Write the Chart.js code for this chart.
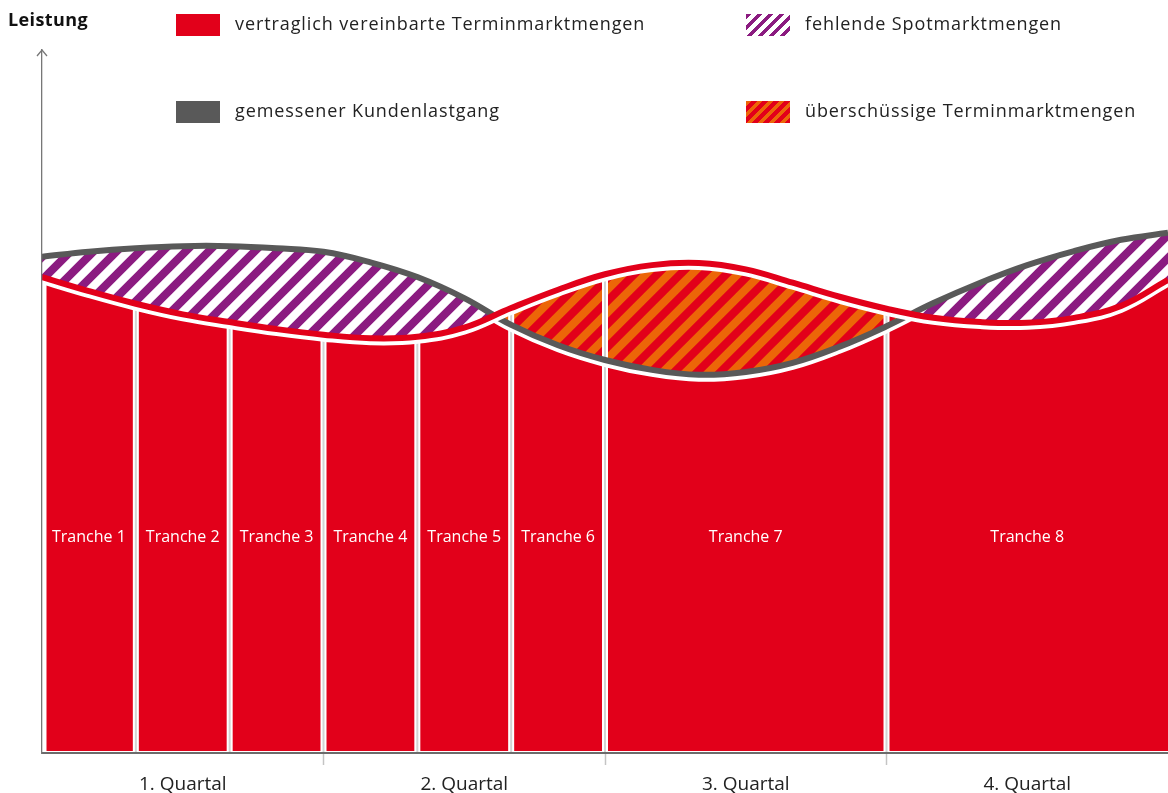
<!DOCTYPE html>
<html lang="de">
<head>
<meta charset="utf-8">
<title>Leistung – Tranchen</title>
<script src="https://cdn.jsdelivr.net/npm/chart.js@4.4.1/dist/chart.umd.min.js"></script>
<style>
  html, body { margin: 0; padding: 0; background: #fff; }
  body { width: 1168px; height: 793px; position: relative; overflow: hidden;
         font-family: 'Open Sans', sans-serif; color: #222; }
  #chart { position: absolute; left: 0; top: 0; }
  .title { position: absolute; left: 8px; top: 7px; font-size: 18px; font-weight: bold;
           letter-spacing: 0.4px; color: #111; }
  .legend-item { position: absolute; display: flex; align-items: center; font-size: 18px;
                 letter-spacing: 0.9px; z-index: 2; }
  .legend-item .txt { position: relative; top: -2px; }
  .swatch { width: 44px; height: 22px; margin-right: 15px; flex: none; }
</style>
</head>
<body>
<canvas id="chart" width="1168" height="793"></canvas>
<div class="title">Leistung</div>
<div id="legend"></div>
<script>
// ── Daten ──────────────────────────────────────────────
const months = [0, 0.5, 1, 1.5, 2, 2.5, 3, 3.5, 4, 4.5, 5, 5.5, 6, 6.5, 7, 7.5, 8, 8.5, 9, 9.5, 10, 10.5, 11, 11.5, 12];
const gemessen = [70.6, 71.3, 71.8, 72.1, 72.1, 71.8, 71.3, 69.8, 67.7, 64.7, 60.9, 58.0, 55.9, 54.5, 53.8, 54.2, 55.5, 57.8, 60.7, 64.0, 66.9, 69.4, 71.4, 73.0, 74.0];
const vertraglich = [67.7, 65.7, 63.9, 62.4, 61.3, 60.3, 59.5, 59.0, 59.2, 60.5, 63.3, 65.9, 68.1, 69.4, 69.7, 68.8, 66.9, 64.9, 63.2, 61.9, 61.3, 61.2, 61.9, 63.6, 67.3];
const tranchen = ['Tranche 1', 'Tranche 2', 'Tranche 3', 'Tranche 4', 'Tranche 5', 'Tranche 6', 'Tranche 7', 'Tranche 8'];
const trancheGrenzen = [0, 1, 2, 3, 4, 5, 6, 9, 12];
const quartale = ['1. Quartal', '2. Quartal', '3. Quartal', '4. Quartal'];
const legendeTexte = ['vertraglich vereinbarte Terminmarktmengen', 'fehlende Spotmarktmengen', 'gemessener Kundenlastgang', 'überschüssige Terminmarktmengen'];
const labelHoehe = 30.6;

// ── Farben ─────────────────────────────────────────────
const RED = '#e2001a';
const GRAY = '#595959';
const PURPLE = '#8b1b80';
const ORANGE = '#ec6608';
const FONT = "'Open Sans', sans-serif";

// ── Legende (HTML) ─────────────────────────────────────
const swatches = [
  RED,
  `repeating-linear-gradient(135deg, ${PURPLE} 0 3.9px, #fff 3.9px 7.8px)`,
  GRAY,
  `repeating-linear-gradient(135deg, ${ORANGE} 0 3.9px, ${RED} 3.9px 7.8px)`,
];
const legendPos = [[176, 13], [746, 13], [176, 100], [746, 100]];
const legend = document.getElementById('legend');
legendeTexte.forEach((text, i) => {
  const item = document.createElement('div');
  item.className = 'legend-item';
  item.style.left = legendPos[i][0] + 'px';
  item.style.top = legendPos[i][1] + 'px';
  item.innerHTML = `<span class="swatch" style="background:${swatches[i]}"></span><span class="txt">${text}</span>`;
  legend.appendChild(item);
});

// ── Schraffur ──────────────────────────────────────────
const canvas = document.getElementById('chart');
const mainCtx = canvas.getContext('2d');

function stripes(c1, c2, size) {
  const cv = document.createElement('canvas');
  cv.width = cv.height = size;
  const g = cv.getContext('2d');
  g.fillStyle = c2;
  g.fillRect(0, 0, size, size);
  g.strokeStyle = c1;
  g.lineWidth = size / (2 * Math.SQRT2);
  g.beginPath();
  [-size, 0, size].forEach(x0 => {
    g.moveTo(x0 - size, 2 * size);
    g.lineTo(x0 + 2 * size, -size);
  });
  g.stroke();
  return mainCtx.createPattern(cv, 'repeat');
}
const purpleHatch = stripes(PURPLE, '#ffffff', 23);
const orangeHatch = stripes(ORANGE, RED, 23);

const toPoints = arr => months.map((m, i) => ({ x: m, y: arr[i] }));

// ── Eigene Zeichnungen: weiße Kanten, Trennlinien, Beschriftung ──
const extras = {
  id: 'extras',
  beforeDatasetDraw(chart, args) {
    if (args.index !== 2 && args.index !== 3) return;
    const { ctx, chartArea } = chart;
    const line = args.meta.dataset;
    line.updateControlPoints(chartArea, 'x');
    ctx.save();
    if (args.index === 2) {
      // weiße Kante unter der grauen Linie nur über der roten Fläche
      const red = chart.getDatasetMeta(0).dataset;
      red.updateControlPoints(chartArea, 'x');
      ctx.beginPath();
      red.path(ctx);
      ctx.lineTo(chartArea.right, chartArea.bottom);
      ctx.lineTo(chartArea.left, chartArea.bottom);
      ctx.closePath();
      ctx.clip();
    }
    ctx.translate(0, 4);
    ctx.beginPath();
    line.path(ctx);
    ctx.strokeStyle = '#fff';
    ctx.lineWidth = 6;
    ctx.stroke();
    ctx.restore();
  },
  afterDatasetDraw(chart, args) {
    if (args.index !== 1) return;
    const { ctx, chartArea, scales: { x, y } } = chart;
    ctx.save();
    // Abstand zur Achse
    ctx.fillStyle = '#fff';
    const top0 = y.getPixelForValue(vertraglich[0]);
    ctx.fillRect(chartArea.left, top0, 4.5, chartArea.bottom - top0);
    ctx.fillRect(chartArea.left, chartArea.bottom - 2, chartArea.right - chartArea.left, 2);
    // Trennlinien zwischen Tranchen
    trancheGrenzen.slice(1, -1).forEach(b => {
      const px = x.getPixelForValue(b);
      const top = y.getPixelForValue(vertraglich[months.indexOf(b)]);
      ctx.fillStyle = '#fff';
      ctx.fillRect(px - 3, top, 6, chartArea.bottom - top);
      ctx.fillStyle = '#d2d2d2';
      ctx.fillRect(px - 1, top, 2, chartArea.bottom - top);
    });
    // Beschriftung
    ctx.fillStyle = '#fff';
    ctx.font = `16px ${FONT}`;
    ctx.textAlign = 'center';
    ctx.textBaseline = 'middle';
    tranchen.forEach((t, i) => {
      const cx = x.getPixelForValue((trancheGrenzen[i] + trancheGrenzen[i + 1]) / 2);
      ctx.fillText(t, cx, y.getPixelForValue(labelHoehe));
    });
    ctx.restore();
  },
  afterDraw(chart) {
    const { ctx, chartArea } = chart;
    ctx.save();
    ctx.strokeStyle = '#777';
    ctx.lineWidth = 1.3;
    ctx.beginPath();
    ctx.moveTo(chartArea.left - 5, chartArea.top + 6);
    ctx.lineTo(chartArea.left, chartArea.top);
    ctx.lineTo(chartArea.left + 5, chartArea.top + 6);
    ctx.stroke();
    ctx.restore();
  },
};

const quarterTicks = [1.5, 3, 4.5, 6, 7.5, 9, 10.5];

new Chart(canvas, {
  type: 'line',
  data: {
    datasets: [
      { // 0: Terminmarktmengen (Fläche)
        data: toPoints(vertraglich),
        fill: 'origin',
        backgroundColor: RED,
        borderWidth: 0,
        order: 5,
      },
      { // 1: Differenzfläche
        data: toPoints(gemessen),
        fill: { target: 0, above: purpleHatch, below: orangeHatch },
        borderWidth: 0,
        order: 4,
      },
      { // 2: gemessener Kundenlastgang
        data: toPoints(gemessen),
        fill: false,
        borderColor: GRAY,
        borderWidth: 6,
        order: 2,
      },
      { // 3: vertraglich vereinbarte Terminmarktmengen
        data: toPoints(vertraglich),
        fill: false,
        borderColor: RED,
        borderWidth: 6,
        order: 1,
      },
    ],
  },
  options: {
    responsive: false,
    animation: false,
    events: [],
    layout: { padding: { top: 50, left: 0, right: 0, bottom: 0 } },
    elements: {
      line: { tension: 0.4 },
      point: { radius: 0 },
    },
    plugins: {
      legend: { display: false },
      tooltip: { enabled: false },
    },
    scales: {
      x: {
        type: 'linear',
        min: 0,
        max: 12,
        afterFit: scale => { scale.height = 40; },
        afterBuildTicks: scale => { scale.ticks = quarterTicks.map(v => ({ value: v })); },
        grid: {
          drawOnChartArea: false,
          drawTicks: true,
          tickLength: 12,
          tickWidth: 1.5,
          tickColor: c => (c.tick && c.tick.value % 3 === 0) ? '#c4c4c4' : 'rgba(0,0,0,0)',
        },
        border: { display: true, color: '#6b6b6b', width: 2, z: 1 },
        ticks: {
          autoSkip: false,
          maxRotation: 0,
          padding: 8,
          color: '#222',
          font: { family: FONT, size: 19 },
          callback: v => (v % 3 === 0 ? '' : quartale[Math.floor(v / 3)]),
        },
      },
      y: {
        min: 0,
        max: 100,
        afterFit: scale => { scale.width = 42; },
        grid: { display: false },
        ticks: { display: false },
        border: { display: true, color: '#777', width: 1.3, z: 1 },
      },
    },
  },
  plugins: [extras],
});
</script>
</body>
</html>
